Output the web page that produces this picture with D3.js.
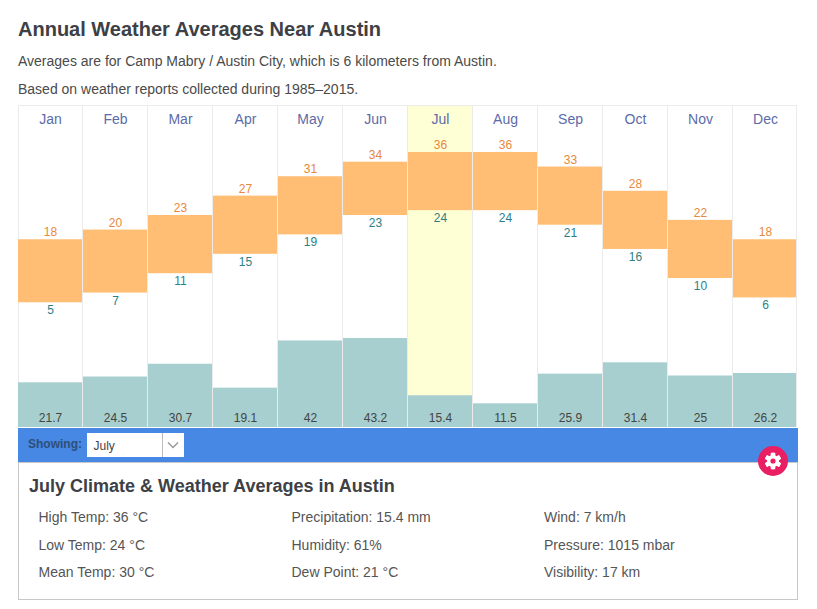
<!DOCTYPE html>
<html>
<head>
<meta charset="utf-8">
<script src="https://cdn.jsdelivr.net/npm/d3@7"></script>
<style>
  html, body { margin: 0; padding: 0; background: #fff; overflow: hidden; }
  svg { display: block; font-family: "Liberation Sans", Arial, sans-serif; }
</style>
</head>
<body>
<svg id="chart"></svg>
<script>
const months = ["Jan", "Feb", "Mar", "Apr", "May", "Jun", "Jul", "Aug", "Sep", "Oct", "Nov", "Dec"];
const highTemps = [18, 20, 23, 27, 31, 34, 36, 36, 33, 28, 22, 18];
const lowTemps = [5, 7, 11, 15, 19, 23, 24, 24, 21, 16, 10, 6];
const precip = [21.7, 24.5, 30.7, 19.1, 42, 43.2, 15.4, 11.5, 25.9, 31.4, 25, 26.2];
const selectedMonth = "Jul";

const detailCol1 = ["High Temp: 36 °C", "Low Temp: 24 °C", "Mean Temp: 30 °C"];
const detailCol2 = ["Precipitation: 15.4 mm", "Humidity: 61%", "Dew Point: 21 °C"];
const detailCol3 = ["Wind: 7 km/h", "Pressure: 1015 mbar", "Visibility: 17 km"];

const width = 817;
const height = 609;
const gridTop = 105;
const gridRight = 796;
const baseline = 427;

const svg = d3.select("#chart").attr("width", width).attr("height", height);

// Scales
const x = d3.scaleBand().domain(months).range([18, 798]);
const yTemp = d3.scaleLinear().domain([0, 36]).range([326.5, 152]);
const yPrecip = d3.scaleLinear().domain([0, 43.2]).range([baseline, 338]);
// last column is a pixel narrower than the rest
const barW = d => Math.min(x.bandwidth() - 1, gridRight - x(d));

// Heading
svg.append("text").attr("x", 18).attr("y", 36)
  .attr("font-size", 20).attr("font-weight", "bold").attr("fill", "#3d4045")
  .text("Annual Weather Averages Near Austin");
svg.append("text").attr("x", 18).attr("y", 66)
  .attr("font-size", 14).attr("fill", "#4a4a4a")
  .text("Averages are for Camp Mabry / Austin City, which is 6 kilometers from Austin.");
svg.append("text").attr("x", 18).attr("y", 94)
  .attr("font-size", 14).attr("fill", "#4a4a4a")
  .text("Based on weather reports collected during 1985–2015.");

// Selected month highlight
svg.append("rect")
  .attr("x", x(selectedMonth)).attr("y", gridTop)
  .attr("width", barW(selectedMonth)).attr("height", baseline - gridTop)
  .attr("fill", "#ffffd6");

// Column grid
svg.append("g").selectAll("line")
  .data(months)
  .enter().append("line")
  .attr("x1", d => x(d) + barW(d) + 0.5)
  .attr("x2", d => x(d) + barW(d) + 0.5)
  .attr("y1", gridTop).attr("y2", baseline)
  .attr("stroke", "#ebebeb");
svg.append("line").attr("x1", 18.5).attr("x2", 18.5).attr("y1", gridTop).attr("y2", baseline).attr("stroke", "#ebebeb");
svg.append("line").attr("x1", 18).attr("x2", gridRight + 1).attr("y1", gridTop + 0.5).attr("y2", gridTop + 0.5).attr("stroke", "#ebebeb");

// Month labels
const monthAxis = svg.append("g")
  .attr("transform", `translate(0,${gridTop + 19})`)
  .call(d3.axisTop(x).tickSize(0).tickPadding(0));
monthAxis.select(".domain").remove();
monthAxis.selectAll("text")
  .attr("font-size", 14)
  .attr("font-family", "Liberation Sans, Arial, sans-serif")
  .attr("fill", "#5c6ba8");

// Precipitation bars
svg.append("g").selectAll("rect")
  .data(months)
  .enter().append("rect")
  .attr("x", d => x(d))
  .attr("y", (d, i) => yPrecip(precip[i]))
  .attr("width", d => barW(d))
  .attr("height", (d, i) => baseline - yPrecip(precip[i]))
  .attr("fill", "#a7cfcf");
svg.append("g").selectAll("text")
  .data(months)
  .enter().append("text")
  .attr("x", d => x(d) + 32.5)
  .attr("y", baseline - 5)
  .attr("text-anchor", "middle")
  .attr("font-size", 12).attr("fill", "#444")
  .text((d, i) => precip[i]);

// Temperature range bars
svg.append("g").selectAll("rect")
  .data(months)
  .enter().append("rect")
  .attr("x", d => x(d))
  .attr("y", (d, i) => yTemp(highTemps[i]))
  .attr("width", d => barW(d))
  .attr("height", (d, i) => yTemp(lowTemps[i]) - yTemp(highTemps[i]))
  .attr("fill", "#ffbe73");
svg.append("g").selectAll("text")
  .data(months)
  .enter().append("text")
  .attr("x", d => x(d) + 32.5)
  .attr("y", (d, i) => yTemp(highTemps[i]) - 3)
  .attr("text-anchor", "middle")
  .attr("font-size", 12).attr("fill", "#e8873a")
  .text((d, i) => highTemps[i]);
svg.append("g").selectAll("text")
  .data(months)
  .enter().append("text")
  .attr("x", d => x(d) + 32.5)
  .attr("y", (d, i) => yTemp(lowTemps[i]) + 12)
  .attr("text-anchor", "middle")
  .attr("font-size", 12).attr("fill", "#2d7f86")
  .text((d, i) => lowTemps[i]);

// Details panel
svg.append("rect")
  .attr("x", 18.5).attr("y", 462.5).attr("width", 779).attr("height", 137)
  .attr("fill", "#fff").attr("stroke", "#c8c8c8");

// Blue selector bar
svg.append("rect").attr("x", 18).attr("y", 428).attr("width", 780).attr("height", 34).attr("fill", "#4688e3");
svg.append("text").attr("x", 28).attr("y", 447.5)
  .attr("font-size", 12).attr("font-weight", "bold").attr("fill", "#2f4f78")
  .text("Showing:");
svg.append("rect").attr("x", 87).attr("y", 433).attr("width", 97).attr("height", 24).attr("fill", "#fff");
svg.append("line").attr("x1", 162.5).attr("x2", 162.5).attr("y1", 433).attr("y2", 457).attr("stroke", "#bbb");
svg.append("text").attr("x", 93.5).attr("y", 450)
  .attr("font-size", 12).attr("fill", "#444")
  .text("July");
svg.append("path")
  .attr("d", "M168,442.5L173,447.5L178,442.5")
  .attr("fill", "none").attr("stroke", "#999").attr("stroke-width", 1.5);

// Settings button
const gear = svg.append("g").attr("transform", "translate(773,461)");
gear.append("circle").attr("r", 15).attr("fill", "#e91e63");
d3.range(6).forEach(i => {
  gear.append("rect")
    .attr("x", -2.2).attr("y", -8.2).attr("width", 4.4).attr("height", 16.4).attr("rx", 1)
    .attr("fill", "#fff")
    .attr("transform", `rotate(${i * 60})`);
});
gear.append("circle").attr("r", 6).attr("fill", "#fff");
gear.append("circle").attr("r", 2.6).attr("fill", "#e91e63");

// Panel text
svg.append("text").attr("x", 29).attr("y", 492)
  .attr("font-size", 18).attr("font-weight", "bold").attr("fill", "#3d4045")
  .text("July Climate & Weather Averages in Austin");

const detailY = d3.scalePoint().domain([0, 1, 2]).range([522, 577]);
[[detailCol1, 38.5], [detailCol2, 291.5], [detailCol3, 544]].forEach(([rows, left]) => {
  svg.append("g").selectAll("text")
    .data(rows)
    .enter().append("text")
    .attr("x", left)
    .attr("y", (d, i) => detailY(i))
    .attr("font-size", 14).attr("fill", "#555")
    .text(d => d);
});
</script>
</body>
</html>
